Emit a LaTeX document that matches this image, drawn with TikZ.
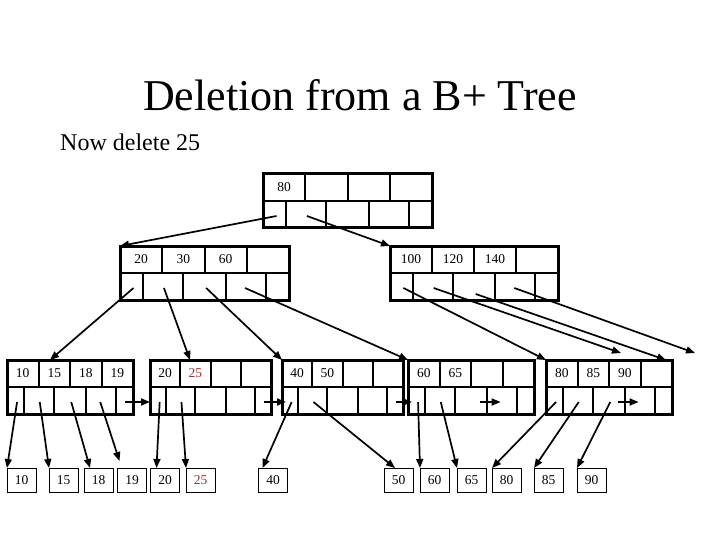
\documentclass[tikz,border=0pt]{standalone}
\usepackage{fontspec}
\setmainfont{Liberation Serif}
\usetikzlibrary{arrows.meta}
\definecolor{keyred}{RGB}{153,51,51}

% nodo del arbol B+: nombre, x, y (arriba), ancho, cuatro claves
\newcommand{\bpnode}[8]{%
  \begin{scope}[shift={(#2,#3)}]
    \node[bpbox, minimum width=#4pt] (#1) at ({#4/2},27) {};
    % fila de claves
    \draw[bpline] (0,27) -- (#4,27);
    \draw[bpline] ({0.25*#4},0) -- ({0.25*#4},27);
    \draw[bpline] ({0.5*#4},0) -- ({0.5*#4},27);
    \draw[bpline] ({0.75*#4},0) -- ({0.75*#4},27);
    % fila de punteros
    \draw[bpline] ({0.135*#4},27) -- ({0.135*#4},54);
    \draw[bpline] ({0.375*#4},27) -- ({0.375*#4},54);
    \draw[bpline] ({0.625*#4},27) -- ({0.625*#4},54);
    \draw[bpline] ({0.865*#4},27) -- ({0.865*#4},54);
    \node[keytext] (#1-k1) at ({0.125*#4},13.5) {#5};
    \node[keytext] (#1-k2) at ({0.375*#4},13.5) {#6};
    \node[keytext] (#1-k3) at ({0.625*#4},13.5) {#7};
    \node[keytext] (#1-k4) at ({0.875*#4},13.5) {#8};
    \coordinate (#1-p1) at ({0.08*#4},42);
    \coordinate (#1-p2) at ({0.26*#4},42);
    \coordinate (#1-p3) at ({0.51*#4},42);
    \coordinate (#1-p4) at ({0.74*#4},42);
    \coordinate (#1-p5) at ({0.94*#4},42);
    \coordinate (#1-s) at ({0.575*#4},42);
    \coordinate (#1-t) at ({0.735*#4},42);
    \coordinate (#1-in) at (0,42);
  \end{scope}}

\begin{document}
\begin{tikzpicture}[x=1pt, y=-1pt,
    bpbox/.style={draw, line width=3pt, minimum height=54pt, inner sep=0pt, outer sep=0pt},
    bpline/.style={line width=2pt},
    keytext/.style={font=\fontsize{13.5}{15}\selectfont, inner sep=0pt},
    databox/.style={draw, line width=0.8pt, minimum width=29pt, minimum height=24pt,
        inner sep=0pt, outer sep=0pt, font=\fontsize{13.5}{15}\selectfont},
    arrow/.style={-{Triangle[length=9pt,width=7pt]}, line width=1.7pt}
]
\useasboundingbox (0,0) rectangle (720,540);

% Titulos
\node (titulo) at (360,95) {\fontsize{44}{50}\selectfont Deletion from a B+ Tree};
\node[anchor=base west, inner sep=0pt] (sub) at (60,151) {\fontsize{24}{28}\selectfont Now delete 25};

% Nodos internos
\bpnode{root}{263}{174}{169}{80}{}{}{}
\bpnode{in1}{120}{246}{169}{20}{30}{60}{}
\bpnode{in2}{390}{246}{168}{100}{120}{140}{}

% Hojas
\bpnode{l1}{7}{360}{126}{10}{15}{18}{19}
\bpnode{l2}{150}{360}{121}{20}{\color{keyred}25}{}{}
\bpnode{l3}{282}{360}{121}{40}{50}{}{}
\bpnode{l4}{408}{360}{126}{60}{65}{}{}
\bpnode{l5}{546}{360}{126}{80}{85}{90}{}

% Registros
\node[databox] (d10) at (21.5,480) {10};
\node[databox] (d15) at (63.5,480) {15};
\node[databox] (d18) at (98.5,480) {18};
\node[databox] (d19) at (132,480) {19};
\node[databox] (d20) at (165,480) {20};
\node[databox, text=keyred] (d25) at (200.5,480) {25};
\node[databox] (d40) at (273,480) {40};
\node[databox] (d50) at (398.5,480) {50};
\node[databox] (d60) at (434.5,480) {60};
\node[databox] (d65) at (471.5,480) {65};
\node[databox] (d80) at (506.5,480) {80};
\node[databox] (d85) at (548.5,480) {85};
\node[databox] (d90) at (591.5,480) {90};

\coordinate (f1) at (621,353);
\coordinate (f2) at (695,353);

% Flechas
\draw[arrow] (root-p1) -- (in1.north west);
\draw[arrow] (root-p2) -- (in2.north west);

\draw[arrow] (in1-p1) -- ([xshift=43pt]l1.north west);
\draw[arrow] (in1-p2) -- ([xshift=40pt]l2.north west);
\draw[arrow] (in1-p3) -- (l3.north west);
\draw[arrow] (in1-p4) -- (l4.north west);

\draw[arrow] (in2-p1) -- (l5.north west);
\draw[arrow] (in2-p2) -- (f1);
\draw[arrow] ([yshift=-6pt]in2-p3) -- ([xshift=-6pt]l5.north east);
\draw[arrow] (in2-p4) -- (f2);

\draw[arrow] (l1-p1) -- (d10.north west);
\draw[arrow] (l1-p2) -- (d15.north west);
\draw[arrow] (l1-p3) -- ([xshift=6pt]d18.north west);
\draw[arrow] (l1-p4) -- ([xshift=2pt,yshift=7pt]d19.north west);
\draw[arrow] (l1-p5) -- (l2-in);

\draw[arrow] (l2-p1) -- ([xshift=6pt]d20.north west);
\draw[arrow] (l2-p2) -- (d25.north west);
\draw[arrow] (l2-p5) -- ([xshift=4pt]l3-in);

\draw[arrow] (l3-p1) -- ([xshift=4pt]d40.north west);
\draw[arrow] (l3-p2) -- ([xshift=11pt]d50.north west);
\draw[arrow] (l3-p5) -- ([xshift=4pt]l4-in);

\draw[arrow] (l4-p1) -- (d60.north west);
\draw[arrow] (l4-p2) -- (d65.north west);
\draw[arrow] (l4-s) -- (l4-t);

\draw[arrow] (l5-p1) -- (d80.north west);
\draw[arrow] (l5-p2) -- (d85.north west);
\draw[arrow] (l5-p3) -- (d90.north west);
\draw[arrow] (l5-s) -- (l5-t);

\end{tikzpicture}
\end{document}
